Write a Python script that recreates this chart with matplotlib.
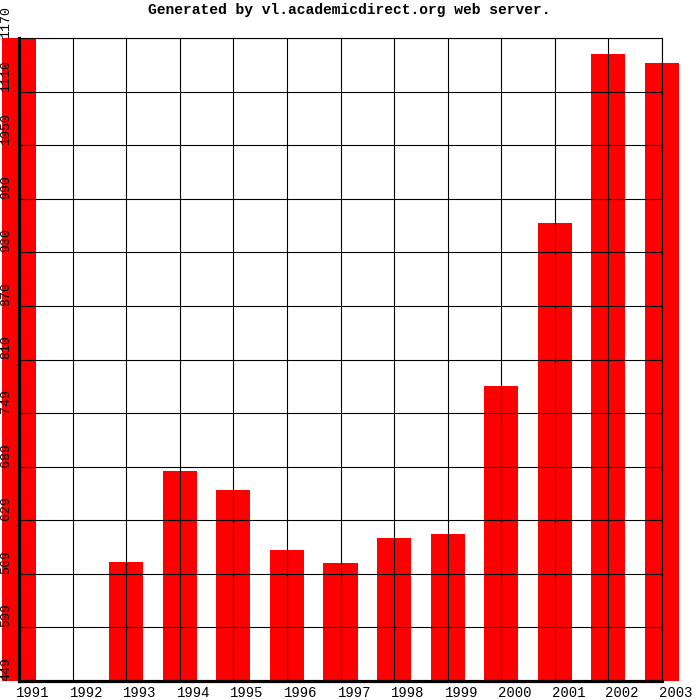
import matplotlib
matplotlib.use("Agg")
import matplotlib.pyplot as plt

years = ["1991", "1992", "1993", "1994", "1995", "1996", "1997",
         "1998", "1999", "2000", "2001", "2002", "2003"]
values = [1170, 449, 582, 684, 663, 596, 581, 609, 614, 780, 963, 1152, 1142]
ytick_labels = ["449", "509", "569", "629", "689", "749", "810",
                "870", "930", "990", "1050", "1110", "1170"]
ymin, ymax = 449, 1170
title = "Generated by vl.academicdirect.org web server."

W = H = 700
fig = plt.figure(figsize=(7, 7), dpi=100)
ax = fig.add_axes([19 / W, 19 / H, 643 / W, 643 / H])

x = list(range(len(years)))
ax.bar(x, [v - ymin for v in values], bottom=ymin, width=0.635,
       color="#ff0000", clip_on=False, zorder=1)

ax.set_xlim(0, len(years) - 1)
ax.set_ylim(ymin, ymax)
nt = len(ytick_labels)
yt = [ymin + (ymax - ymin) * i / (nt - 1) for i in range(nt)]
ax.set_xticks(x)
ax.set_yticks(yt)
ax.set_xticklabels([])
ax.set_yticklabels([])
ax.tick_params(length=0)
ax.set_axisbelow(False)
ax.grid(True, color="black", linewidth=0.8)
for s in ["top", "right"]:
    ax.spines[s].set_linewidth(0.8)
for s in ["left", "bottom"]:
    ax.spines[s].set_linewidth(2.3)
    ax.spines[s].set_zorder(5)

font = "Liberation Mono"
# x labels: left aligned at tick
for i, lab in enumerate(years):
    ax.annotate(lab, xy=(i, 0), xycoords=("data", "axes fraction"),
                xytext=(-3, -5), textcoords="offset pixels",
                ha="left", va="top", fontsize=10, family=font)
# y labels: rotated, bottom at tick
for v, lab in zip(yt, ytick_labels):
    ax.annotate(lab, xy=(0, v), xycoords=("figure fraction", "data"),
                xytext=(0, 0), textcoords="offset pixels",
                ha="left", va="bottom", rotation=90, fontsize=9.5,
                family=font, annotation_clip=False)

fig.text(349 / W, 1 - 10 / H, title, ha="center", va="center",
         fontsize=10.5, family=font, fontweight="bold")

fig.savefig("out.png", dpi=100)
